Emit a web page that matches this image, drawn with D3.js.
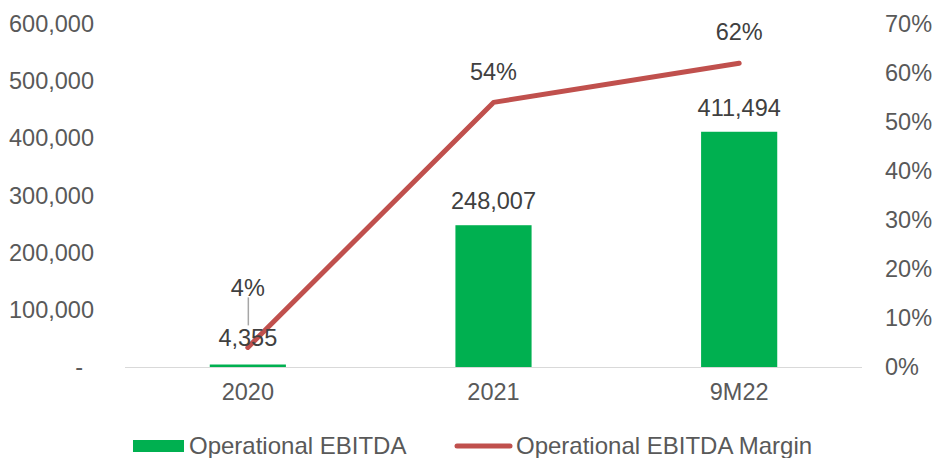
<!DOCTYPE html>
<html>
<head>
<meta charset="utf-8">
<script src="https://cdn.jsdelivr.net/npm/d3@7"></script>
<style>
  body { margin: 0; background: #fff; }
  text { font-family: "Liberation Sans", Arial, sans-serif; }
</style>
</head>
<body>
<svg id="chart" width="933" height="458"></svg>
<script>
const categories = ['2020', '2021', '9M22'];
const ebitda = [4355, 248007, 411494];
const margin = [0.04, 0.54, 0.62];
const leftTicks = [0, 100000, 200000, 300000, 400000, 500000, 600000];
const rightTicks = [0, 0.1, 0.2, 0.3, 0.4, 0.5, 0.6, 0.7];
const seriesNames = ['Operational EBITDA', 'Operational EBITDA Margin'];

const svg = d3.select('#chart');
const plotLeft = 125, plotRight = 862, plotTop = 24, plotBottom = 367;
const fontSize = 23.5;

const x = d3.scaleBand()
    .domain(categories)
    .range([plotLeft, plotRight])
    .paddingInner(0.69)
    .paddingOuter(0.345);

const yL = d3.scaleLinear().domain([0, 600000]).range([plotBottom, plotTop]);
const yR = d3.scaleLinear().domain([0, 0.7]).range([plotBottom, plotTop]);

const fmt = d3.format(',');
const pct = d3.format('.0%');

// left axis
const axL = svg.append('g')
    .attr('transform', `translate(${plotLeft - 28},0)`)
    .call(d3.axisLeft(yL).tickValues(leftTicks).tickSize(0)
        .tickFormat(d => d === 0 ? '-' : fmt(d)));
axL.select('.domain').remove();
axL.selectAll('text')
    .attr('fill', '#595959')
    .attr('font-size', fontSize)
    .attr('font-family', '"Liberation Sans", Arial, sans-serif')
    .attr('dx', d => d === 0 ? -11 : 0);

// right axis
const axR = svg.append('g')
    .attr('transform', `translate(${plotRight + 20},0)`)
    .call(d3.axisRight(yR).tickValues(rightTicks).tickSize(0).tickFormat(pct));
axR.select('.domain').remove();
axR.selectAll('text')
    .attr('fill', '#595959')
    .attr('font-size', fontSize)
    .attr('font-family', '"Liberation Sans", Arial, sans-serif');

// bars
svg.append('g').selectAll('rect')
    .data(categories)
    .join('rect')
    .attr('x', d => x(d))
    .attr('width', x.bandwidth())
    .attr('y', (d, i) => yL(ebitda[i]))
    .attr('height', (d, i) => plotBottom - yL(ebitda[i]))
    .attr('fill', '#00b050');

// bottom axis
const axB = svg.append('g')
    .attr('transform', `translate(0,${plotBottom})`)
    .call(d3.axisBottom(x).tickSize(0).tickPadding(16));
axB.select('.domain')
    .attr('stroke', '#d9d9d9')
    .attr('d', `M${plotLeft},0.5H${plotRight}`);
axB.selectAll('text')
    .attr('fill', '#595959')
    .attr('font-size', fontSize)
    .attr('font-family', '"Liberation Sans", Arial, sans-serif');

// margin line
const cx = d => x(d) + x.bandwidth() / 2;
const line = d3.line()
    .x(d => cx(d))
    .y((d, i) => yR(margin[i]));
svg.append('path')
    .datum(categories)
    .attr('d', line)
    .attr('fill', 'none')
    .attr('stroke', '#c0504d')
    .attr('stroke-width', 5)
    .attr('stroke-linecap', 'round')
    .attr('stroke-linejoin', 'round');

// bar labels
svg.append('g').selectAll('text')
    .data(categories)
    .join('text')
    .attr('x', cx)
    .attr('y', (d, i) => i === 0 ? 338 : yL(ebitda[i]) - 24)
    .attr('dy', '0.35em')
    .attr('text-anchor', 'middle')
    .attr('fill', '#404040')
    .attr('font-size', fontSize)
    .text((d, i) => fmt(ebitda[i]));

// margin labels
svg.append('g').selectAll('text')
    .data(categories)
    .join('text')
    .attr('x', cx)
    .attr('y', (d, i) => i === 0 ? yR(margin[i]) - 60 : yR(margin[i]) - 31)
    .attr('dy', '0.35em')
    .attr('text-anchor', 'middle')
    .attr('fill', '#404040')
    .attr('font-size', fontSize)
    .text((d, i) => pct(margin[i]));

// leader line for the moved 2020 label
svg.append('line')
    .attr('x1', cx(categories[0]) + 0.5).attr('x2', cx(categories[0]) + 0.5)
    .attr('y1', yR(margin[0]) - 50).attr('y2', yR(margin[0]) - 22)
    .attr('stroke', '#a6a6a6')
    .attr('stroke-width', 1.5);

// legend
const lg = svg.append('g').attr('transform', 'translate(0,446)');
lg.append('rect')
    .attr('x', 133).attr('y', -6).attr('width', 51).attr('height', 12)
    .attr('fill', '#00b050');
lg.append('text')
    .attr('x', 189).attr('dy', '0.35em')
    .attr('fill', '#595959').attr('font-size', 24)
    .text(seriesNames[0]);
lg.append('line')
    .attr('x1', 457).attr('x2', 510)
    .attr('stroke', '#c0504d').attr('stroke-width', 5)
    .attr('stroke-linecap', 'round');
lg.append('text')
    .attr('x', 516).attr('dy', '0.35em')
    .attr('fill', '#595959').attr('font-size', 24)
    .text(seriesNames[1]);
</script>
</body>
</html>
